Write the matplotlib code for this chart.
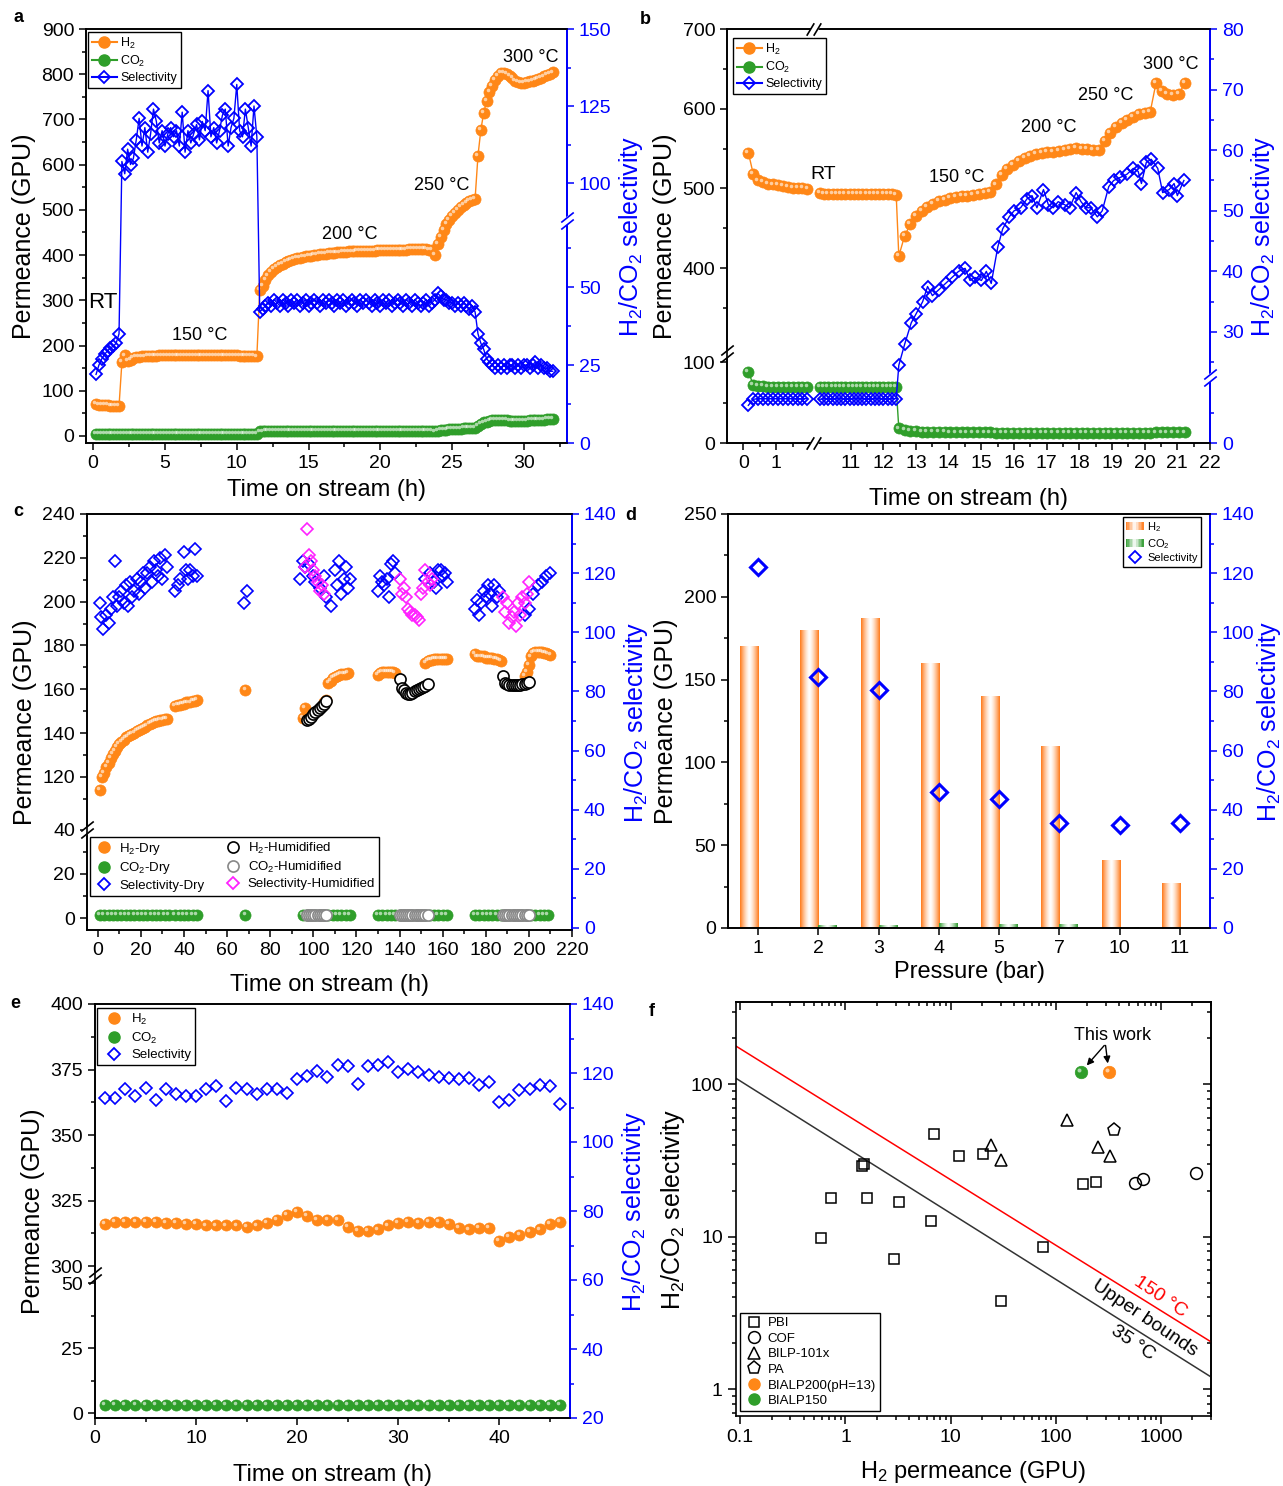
import numpy as np
import matplotlib
matplotlib.use("Agg")
import matplotlib.pyplot as plt
import matplotlib.transforms as mtransforms
from matplotlib.ticker import FixedLocator, NullFormatter
from matplotlib.lines import Line2D
from matplotlib.patches import Patch, Rectangle
from matplotlib.legend_handler import HandlerBase
from matplotlib.colors import LinearSegmentedColormap, to_rgb

plt.rcParams['font.family'] = ['Liberation Sans', 'DejaVu Sans']
plt.rcParams['mathtext.fontset'] = 'custom'
plt.rcParams['mathtext.rm'] = 'Liberation Sans'
plt.rcParams['mathtext.default'] = 'regular'
plt.rcParams['axes.linewidth'] = 1.2

ORANGE = '#ff8717'
GREEN = '#2f9e2a'
BLUE = '#0000ff'
MAGENTA = '#ff22ff'

# ---------------- data: panel a (sampled every 0.2 h from 0.2 h) ----------------
h2_a = [70, 69, 69, 68, 68, 67, 67, 66, 66,
        163, 178, 166, 168, 172, 174, 175, 176, 176, 177,
        177, 177, 177, 178, 178, 178, 178, 178, 178, 178,
        178, 178, 178, 178, 178, 178, 178, 178, 178, 178,
        178, 178, 178, 178, 178, 178, 178, 178, 178, 178,
        178, 177, 177, 177, 177, 177, 177, 176,
        322, 332, 345, 355, 363, 369, 374, 378, 381, 384,
        387, 389, 391, 393, 394, 396, 397, 398, 399, 400,
        401, 402, 403, 403, 404, 405, 405, 406, 406, 407,
        407, 408, 408, 408, 409, 409, 409, 410, 410, 410,
        410, 411, 411, 411, 411, 412, 412, 412, 412, 412,
        412, 412, 413, 413, 413, 413, 413, 413, 413, 412,
        412, 400,
        425, 440, 455, 468, 478, 487, 494, 500, 506, 511, 515, 519, 522, 525,
        620, 677, 715, 740, 760, 775, 788, 797, 802, 803,
        800, 796, 791, 786, 782, 780, 780, 782, 784, 786,
        788, 790, 792, 795, 798, 801, 804]
co2_a = [5, 5, 5, 5, 5, 5, 5, 5, 5,
         5, 5, 5, 5, 5, 5, 5, 5, 5, 5,
         5, 5, 5, 5, 5, 5, 5, 5, 5, 5,
         5, 5, 5, 5, 5, 5, 5, 5, 5, 5,
         5, 5, 5, 5, 5, 5, 5, 5, 5, 5,
         5, 5, 5, 5, 5, 5, 5, 5,
         10, 10, 11, 11, 11, 11, 11, 11, 12, 12,
         12, 12, 12, 12, 12, 12, 12, 12, 12, 12,
         12, 12, 12, 12, 12, 12, 12, 12, 12, 12,
         12, 12, 12, 12, 12, 12, 12, 12, 12, 12,
         12, 12, 12, 12, 12, 12, 12, 12, 12, 12,
         12, 12, 12, 12, 12, 12, 12, 12, 12, 12,
         12, 10,
         12, 13, 14, 14, 15, 15, 16, 16, 16, 17, 17, 17, 18, 18,
         22, 27, 30, 32, 34, 35, 36, 36, 36, 35,
         35, 34, 34, 33, 33, 33, 34, 34, 35, 35,
         35, 36, 36, 36, 37, 37, 38]
sel_a = [22, 25, 27, 28.5, 29.5, 30.5, 31, 32, 35,
         107, 103, 111, 106, 108, 114, 121, 112, 118, 110,
         116, 124, 120, 113, 117, 112, 116, 118, 115, 117,
         112, 123, 110, 117, 113, 116, 119, 114, 120, 117,
         130, 115, 118, 113, 117, 122, 124, 112, 118, 121,
         132, 117, 115, 124, 118, 112, 125, 115,
         42, 43, 44, 45, 44, 46, 45, 44, 46, 45,
         44, 46, 45, 46, 44, 45, 46, 44, 45, 46,
         45, 44, 46, 45, 46, 45, 44, 46, 45, 46,
         44, 45, 46, 45, 44, 46, 45, 46, 45, 44,
         46, 45, 44, 46, 45, 46, 44, 45, 46, 45,
         44, 46, 45, 44, 46, 45, 44, 45, 46, 44,
         45, 46,
         48, 47, 46, 46, 45, 45, 44, 45, 44, 45, 44, 43, 44, 42,
         35, 32, 30, 27, 26, 25, 24, 25, 24, 25,
         24, 25, 25, 24, 25, 24, 25, 25, 24, 25,
         26, 24, 25, 24, 24, 23, 23]

# ---------------- data: panel b ----------------
# room temperature, before the axis break (every 0.15 h from 0.15 h)
h2_b1 = [545, 518, 510, 508, 506, 505, 504, 503, 502, 501, 500, 500, 499]
co2_b1 = [88, 72, 70, 70, 69, 69, 69, 69, 69, 69, 69, 69, 69]
sel_b1 = [6.2, 7.2, 7.3, 7.3, 7.3, 7.3, 7.3, 7.3, 7.3, 7.3, 7.3, 7.3, 7.3]
# room temperature after the break (every 0.13 h from 10.05 h)
h2_b2 = [494, 493, 493, 493, 493, 493, 493, 493, 493, 493,
         493, 493, 493, 493, 493, 493, 493, 493, 492]
co2_b2 = [69, 69, 69, 69, 69, 69, 69, 69, 69, 69,
          69, 69, 69, 69, 69, 69, 69, 69, 69]
sel_b2 = [7.2, 7.3, 7.3, 7.3, 7.3, 7.3, 7.3, 7.3, 7.3, 7.3,
          7.3, 7.3, 7.3, 7.3, 7.3, 7.3, 7.3, 7.3, 7.3]
# heated part (every 0.175 h from 12.47 h)
h2_b3 = [415, 440, 455, 465, 472, 477, 481, 484, 486, 488,
         489, 490, 491, 492, 493, 494, 495, 505, 517, 524,
         529, 534, 538, 541, 543, 545, 546, 546, 547, 548,
         550, 551, 550, 549, 548, 548, 560, 570, 577, 582,
         586, 590, 593, 595, 596, 632, 622, 619, 617, 618, 632]
co2_b3 = [18, 16, 15, 15, 14, 14, 14, 14, 14, 13,
          13, 13, 13, 13, 13, 13, 13, 12, 12, 12,
          12, 12, 12, 12, 12, 12, 12, 12, 12, 12,
          12, 12, 12, 12, 12, 12, 12, 12, 12, 12,
          12, 12, 12, 12, 12, 13, 13, 13, 13, 13, 13]
sel_b3_t = [12.47, 12.65, 12.85, 13.0, 13.2, 13.35, 13.5, 13.7, 13.9, 14.1,
            14.3, 14.5, 14.65, 14.8, 15.0, 15.15, 15.3, 15.5, 15.65, 15.85,
            16.0, 16.2, 16.4, 16.55, 16.7, 16.9, 17.05, 17.2, 17.35, 17.55,
            17.7, 17.9, 18.05, 18.2, 18.35, 18.55, 18.7, 18.9, 19.05, 19.25,
            19.45, 19.65, 19.8, 19.9, 20.05, 20.2, 20.4, 20.55, 20.75, 20.9,
            21.0, 21.2]
sel_b3 = [24.5, 28, 31.5, 33, 35, 37.5, 36, 37, 38, 39,
          40, 40.5, 38.5, 39, 38.5, 40, 38, 44, 47, 49,
          50, 50.5, 52, 52.5, 50.5, 53.5, 51, 50.5, 51.5, 51,
          50.5, 53, 51.5, 50.5, 50.5, 49, 50, 54, 55, 55.5,
          56, 57, 56.5, 54.5, 58, 58.5, 57, 53, 53.5, 54.5,
          52.5, 55]

# ---------------- data: panel c ----------------
h2dry_t = [*range(1, 33), *range(36, 47), 68.5, 95, 96, *range(105, 117),
           *range(130, 139), *range(152, 163), *range(175, 188), *range(198, 211)]
h2dry = [114, 120, 122, 124.5, 126.5, 128.5, 130.5, 132, 133.5, 135,
         136, 137, 138, 138.5, 139, 139.5, 140, 141, 141.5, 142,
         142.5, 143, 143.5, 144, 144.5, 145, 145.5, 145.5, 146, 146,
         146.5, 146.5,
         152.5, 153, 153, 153.5, 153.5, 154, 154, 154, 154.5, 154.5, 155,
         159.5,
         147, 151.5,
         154, 155, 163, 164, 165, 165.5, 166, 166.5, 167, 167, 167, 167.5,
         166.5, 167.5, 168, 168, 168, 168, 168, 168, 167.5,
         172, 173, 173.5, 173.5, 174, 174, 174, 174, 174, 174, 174,
         176, 175, 175, 175, 175, 174.5, 174.5, 174.5, 174.5, 174, 174, 173.5, 173,
         166, 168, 171, 175, 176.5, 177, 177, 177, 177, 176.5, 176.5, 176, 175.5]
h2hum_t = [*range(97, 107), *range(140, 154), *range(188, 201)]
h2hum = [146, 146.5, 147.5, 148.5, 149.5, 150.5, 151.5, 152.5, 153.5, 154.5,
         164.5, 160.5, 159.5, 158.5, 158, 158, 158.5, 159, 159.5, 160, 160.5, 161, 161.5, 162.5,
         166, 163, 162.5, 162, 162, 162, 162, 162, 162, 162.5, 162.5, 163, 163.5]
co2dry_t = [*range(1, 34, 2), *range(36, 47, 2), 68.5, *range(95, 118, 2),
            *range(130, 163, 2), *range(175, 210, 2)]
co2dry = [1.4, 1.3, 1.3, 1.2, 1.2, 1.2, 1.2, 1.2, 1.2, 1.2, 1.2, 1.2, 1.2, 1.2, 1.2, 1.2, 1.2,
          1.3, 1.3, 1.3, 1.3, 1.3, 1.3,
          1.4,
          1.3, 1.3, 1.3, 1.3, 1.3, 1.3, 1.3, 1.4, 1.4, 1.4, 1.4, 1.4,
          1.4, 1.4, 1.4, 1.4, 1.4, 1.4, 1.4, 1.4, 1.4, 1.4, 1.4, 1.4, 1.4, 1.4, 1.4, 1.4, 1.4,
          1.5, 1.5, 1.5, 1.5, 1.5, 1.5, 1.5, 1.5, 1.5, 1.5, 1.5, 1.5, 1.5, 1.5, 1.5, 1.5, 1.5, 1.5]
co2hum = [1.4, 1.4, 1.4, 1.4, 1.4, 1.4, 1.4, 1.4, 1.4, 1.4,
          1.4, 1.4, 1.4, 1.4, 1.4, 1.4, 1.4, 1.4, 1.4, 1.4, 1.4, 1.4, 1.4, 1.4,
          1.5, 1.5, 1.5, 1.5, 1.5, 1.5, 1.5, 1.5, 1.5, 1.5, 1.5, 1.5, 1.5]
seldry_t = [1, 1.5, 2.5, 4, 5, 6, 7, 8, 9, 10,
            11, 12, 13, 14, 15, 16, 17, 18, 19, 20,
            21, 22, 23, 24, 25, 26, 27, 28, 29, 30,
            31, 32,
            36, 37, 38, 40, 41, 42, 43, 44, 45, 46,
            68, 69,
            94, 95, 96, 98, 100, 101, 103, 105, 106, 108,
            110, 111, 112, 113, 114, 115, 116, 117,
            130, 131, 132, 133, 134, 135, 136, 137, 138,
            152, 154, 156, 157, 158, 159, 160, 161, 162,
            175, 176, 177, 178, 179, 180, 181, 182, 183, 184, 185, 186,
            198, 200, 202, 204, 206, 208, 210]
seldry = [110, 105, 101, 106, 103, 108, 112, 124, 109, 112,
          114, 110, 116, 109, 117, 112, 114, 118, 113, 117,
          120, 115, 120, 122, 117, 124, 121, 119, 125, 118,
          126, 122,
          114, 116, 118, 127, 121, 118, 121, 119, 128, 119,
          110, 114,
          118, 124, 122, 123, 119, 117, 115, 119, 112, 109,
          121, 116, 124, 113, 118, 122, 115, 118,
          114, 119, 117, 116, 118, 112, 123, 124, 120,
          118, 120, 117, 115, 121, 121, 119, 120, 117,
          108, 111, 106, 110, 114, 112, 116, 113, 109, 116, 112, 114,
          106, 108, 113, 116, 117, 119, 120]
selhum_t = [96, 97, 98, 99, 100, 101, 102, 103, 104, 105,
            140, 141, 142, 143, 144, 145, 146, 147, 148, 149, 150, 151, 152, 153, 154, 155,
            188, 189, 190, 191, 192, 193, 194, 195, 196, 197, 198, 199, 200]
selhum = [122, 135, 126, 124, 121, 119, 117, 114, 116, 113,
          118, 113, 115, 112, 108, 107, 106, 106, 105, 104, 113, 115, 121, 117, 116, 118,
          112, 107, 110, 103, 105, 107, 102, 110, 106, 112, 110, 113, 117]

# ---------------- data: panel d ----------------
pressure = ['1', '2', '3', '4', '5', '7', '10', '11']
h2_d = [170, 180, 187, 160, 140, 110, 41, 27]
co2_d = [0.8, 1.6, 1.8, 2.8, 2.6, 2.4, 0.5, 0.3]
sel_d = [122, 85, 80.5, 46, 43.5, 35.5, 35, 35.5]

# ---------------- data: panel e (hourly, 1-46 h) ----------------
t_e = list(range(1, 47))
h2_e = [316, 317, 317, 317, 317, 317, 316.5, 316.5, 316, 316,
        315.5, 315.5, 315.5, 315.5, 315, 315.5, 316.5, 317.5, 319.5, 320.5,
        319, 317.5, 317.5, 317.5, 315, 313.5, 313.5, 314, 315.5, 316.5,
        317, 316.5, 317, 317, 316, 314.5, 314, 314.5, 314.5, 309.5,
        311, 312, 313, 314, 316, 317]
co2_e = [3.2, 3.2, 3.2, 3.2, 3.2, 3.2, 3.2, 3.2, 3.2, 3.2,
         3.2, 3.2, 3.2, 3.2, 3.2, 3.2, 3.2, 3.2, 3.2, 3.2,
         3.2, 3.2, 3.2, 3.2, 3.2, 3.2, 3.2, 3.2, 3.2, 3.2,
         3.2, 3.2, 3.2, 3.2, 3.2, 3.2, 3.2, 3.2, 3.2, 3.2,
         3.2, 3.2, 3.2, 3.2, 3.2, 3.2]
sel_e = [112.8, 112.8, 115.4, 113.4, 115.7, 112.2, 115.4, 113.8, 113.2, 113.4,
         115.5, 116.2, 112, 115.7, 115.3, 114, 115.4, 115.3, 114.2, 118.3,
         119.2, 120.7, 118.8, 122.3, 122, 116.7, 122, 122.3, 123.2, 120.2,
         121.1, 120.4, 119.5, 118.8, 118.5, 118.3, 118.5, 116.6, 117.3, 111.5,
         112.2, 115, 115.4, 116.6, 116.2, 111]

# ---------------- data: panel f ----------------
pbi_x = [0.59, 0.73, 1.43, 1.5, 1.6, 2.9, 3.2, 6.5, 7.0, 12, 20.5, 30, 75, 180, 240]
pbi_y = [9.8, 18, 29, 30, 18, 7.1, 17, 12.7, 47, 34, 35, 3.8, 8.6, 22, 22.7]
cof_x = [570, 670, 2170]
cof_y = [22.5, 24, 26]
bilp_x = [24.5, 30, 128, 255, 325]
bilp_y = [40, 32, 58, 39, 34]
pa_x = [355]
pa_y = [50]
bialp200_x, bialp200_y = [320], [121]
bialp150_x, bialp150_y = [175], [121]
ub_x = [0.09, 3000]
ub150_y = [179, 2.04]
ub35_y = [110, 1.2]

# ---------------- helpers ----------------
W, H = 1283, 1486
fig = plt.figure(figsize=(W / 100, H / 100), dpi=100)


def box(x0, y0, x1, y1):
    return [x0 / W, 1 - y1 / H, (x1 - x0) / W, (y1 - y0) / H]


def grid(t0, dt, vals):
    return t0 + dt * np.arange(len(vals))


def broken(vals, pos):
    vals = np.asarray(vals, float)
    pos = np.asarray(pos, float)
    return (lambda v: np.interp(v, vals, pos), lambda p: np.interp(p, pos, vals))


def balls(ax, x, y, color, ms=8.0, ls='none', lw=1.0, z=3):
    ln, = ax.plot(x, y, ls=ls, lw=lw, marker='o', ms=ms, color=color,
                  mfc=color, mec=color, mew=0.5, zorder=z)
    off = mtransforms.offset_copy(ax.transData, fig=fig, x=-0.17 * ms, y=0.17 * ms, units='points')
    ax.plot(x, y, ls='none', marker='o', ms=ms * 0.32, mfc='white', mec='none',
            alpha=0.6, transform=off, zorder=z + 0.01)
    return ln


def ybreak(ax, side, value, color='k'):
    tr = ax.get_yaxis_transform()
    ax.plot([side], [value], transform=tr, ls='none', marker=[(-1, -0.8), (1, 0.8)], ms=9,
            mew=5, color='white', clip_on=False, zorder=30)
    for d in (-3.5, 3.5):
        t2 = mtransforms.offset_copy(tr, fig=fig, y=d, units='dots')
        ax.plot([side], [value], transform=t2, ls='none', marker=[(-1, -0.8), (1, 0.8)], ms=9,
                mew=1.2, color=color, clip_on=False, zorder=31)


def xbreak(ax, value):
    tr = ax.get_xaxis_transform()
    for yy in (0, 1):
        ax.plot([value], [yy], transform=tr, ls='none', marker=[(-0.6, -1), (0.6, 1)], ms=9,
                mew=5, color='white', clip_on=False, zorder=30)
        for d in (-3.5, 3.5):
            t2 = mtransforms.offset_copy(tr, fig=fig, x=d, units='dots')
            ax.plot([value], [yy], transform=t2, ls='none', marker=[(-0.6, -1), (0.6, 1)], ms=9,
                    mew=1.2, color='k', clip_on=False, zorder=31)


def style(ax, right):
    ax.tick_params(which='both', direction='out', labelsize=14, width=1.1)
    ax.tick_params(which='major', length=5)
    ax.tick_params(which='minor', length=3)
    right.tick_params(axis='y', which='both', direction='out', colors=BLUE, labelsize=14, width=1.1)
    right.tick_params(axis='y', which='major', length=5)
    right.tick_params(axis='y', which='minor', length=3)
    right.spines['right'].set_color(BLUE)
    right.spines['right'].set_linewidth(1.4)


def leg(ax, handles, labels, fs=9, **kw):
    lg = ax.legend(handles, labels, frameon=True, fancybox=False, edgecolor='k', framealpha=1,
                   borderpad=0.3, labelspacing=0.25, handletextpad=0.3, borderaxespad=0,
                   prop={'size': fs}, **kw)
    lg.get_frame().set_linewidth(1.0)
    return lg


def labels(ax, right, xl='Time on stream (h)', xpad=5, rpad=4):
    ax.set_xlabel(xl, fontsize=17, labelpad=xpad)
    ax.set_ylabel('Permeance (GPU)', fontsize=18, labelpad=4)
    right.set_ylabel('H$_2$/CO$_2$ selectivity', fontsize=18, color=BLUE, labelpad=rpad)


def diamond_handle(color, ms=6.3, ls='none'):
    return Line2D([], [], ls=ls, color=color, marker='D', ms=ms, mfc='none', mew=1.3)


def ball_handle(color, ls='none'):
    return Line2D([], [], ls=ls, color=color, marker='o', ms=8, mfc=color, mec=color)


# ---------------- panel a ----------------
axa = fig.add_axes(box(86, 29, 567, 443))
axa.set_xlim(-0.5, 33)
axa.set_ylim(-15.5, 900)
ara = axa.twinx()
ara.set_yscale('function', functions=broken([-20, 0, 71.5, 88, 150, 300],
                                            [-62.4, 0, 223, 223.01, 414, 876]))
ara.set_ylim(0, 150)
balls(axa, grid(0.2, 0.2, h2_a), h2_a, ORANGE, ls='-')
balls(axa, grid(0.2, 0.2, co2_a), co2_a, GREEN, ls='-')
ara.plot(grid(0.2, 0.2, sel_a), sel_a, '-D', color=BLUE, mfc='none', ms=6.3, mew=1.3, lw=1)
axa.set_xticks(range(0, 31, 5))
axa.xaxis.set_minor_locator(FixedLocator(np.arange(0, 33, 2.5)))
axa.set_yticks(range(0, 901, 100))
axa.yaxis.set_minor_locator(FixedLocator(np.arange(50, 900, 100)))
ara.set_yticks([0, 25, 50, 100, 125, 150])
ara.yaxis.set_minor_locator(FixedLocator([12.5, 37.5, 62.5, 112.5, 137.5]))
style(axa, ara)
labels(axa, ara, xpad=5.5)
ybreak(ara, 1, 71.5, BLUE)
for s, (x, y), fs in [('RT', (0.7, 296), 16), ('150 °C', (7.4, 223), 13), ('200 °C', (17.9, 445), 13),
                      ('250 °C', (24.3, 555), 13), ('300 °C', (30.5, 838), 13)]:
    axa.text(x, y, s, fontsize=fs, ha='center', va='center')
leg(ara, [ball_handle(ORANGE, '-'), ball_handle(GREEN, '-'), diamond_handle(BLUE, ls='-')],
    ['H$_2$', 'CO$_2$', 'Selectivity'], loc='upper left', bbox_to_anchor=(0.004, 0.993))

# ---------------- panel b ----------------
axb = fig.add_axes(box(727, 29, 1210, 443))
axb.set_xscale('function', functions=broken([-5, 0, 2.143, 9.865, 22, 40],
                                            [-164, 0, 70.3, 70.31, 466.4, 1053.2]))
axb.set_yscale('function', functions=broken([-100, 0, 111.1, 293.4, 700, 1000],
                                            [-81, 0, 90, 90.01, 414.1, 653]))
axb.set_xlim(-0.5, 22)
axb.set_ylim(0, 700)
arb = axb.twinx()
arb.set_yscale('function', functions=broken([-10, 0, 10.87, 22.57, 80, 120],
                                            [-60.7, 0, 66, 66.01, 414, 656.6]))
arb.set_ylim(0, 80)
t_b1 = grid(0.15, 0.15, h2_b1)
t_b23 = np.concatenate([grid(10.05, 0.13, h2_b2), grid(12.47, 0.175, h2_b3)])
balls(axb, t_b1, h2_b1, ORANGE, ls='-')
balls(axb, t_b23, h2_b2 + h2_b3, ORANGE, ls='-')
balls(axb, t_b1, co2_b1, GREEN, ls='-')
balls(axb, t_b23, co2_b2 + co2_b3, GREEN, ls='-')
arb.plot(t_b1, sel_b1, '-D', color=BLUE, mfc='none', ms=6.3, mew=1.3, lw=1)
arb.plot(np.concatenate([grid(10.05, 0.13, sel_b2), sel_b3_t]), sel_b2 + sel_b3, '-D',
         color=BLUE, mfc='none', ms=6.3, mew=1.3, lw=1)
axb.set_xticks([0, 1] + list(range(11, 23)))
axb.xaxis.set_minor_locator(FixedLocator([0.5, 1.5] + list(np.arange(11.5, 22, 1))))
axb.set_yticks([0, 100, 400, 500, 600, 700])
axb.yaxis.set_minor_locator(FixedLocator([50, 350, 450, 550, 650]))
arb.set_yticks([0, 30, 40, 50, 60, 70, 80])
arb.yaxis.set_minor_locator(FixedLocator([5, 25, 35, 45, 55, 65, 75]))
style(axb, arb)
labels(axb, arb, xpad=12)
ybreak(axb, 0, 111.1)
ybreak(arb, 1, 10.87, BLUE)
xbreak(arb, 2.143)
for s, (x, y), fs in [('RT', (10.14, 517), 14), ('150 °C', (14.25, 514), 13), ('200 °C', (17.07, 576), 13),
                      ('250 °C', (18.82, 616), 13), ('300 °C', (20.8, 655), 13)]:
    axb.text(x, y, s, fontsize=fs, ha='center', va='center')
leg(arb, [ball_handle(ORANGE, '-'), ball_handle(GREEN, '-'), diamond_handle(BLUE, ls='-')],
    ['H$_2$', 'CO$_2$', 'Selectivity'], loc='upper left', bbox_to_anchor=(0.012, 0.978))

# ---------------- panel c ----------------
axc = fig.add_axes(box(87, 514, 572, 930))
axc.set_yscale('function', functions=broken([-50, 0, 40, 95.8, 240, 400],
                                            [-98, 12, 100, 100.01, 415.8, 766]))
axc.set_xlim(-5, 220)
axc.set_ylim(-5.45, 240)
arc = axc.twinx()
arc.set_ylim(-0.7, 140)
balls(axc, h2dry_t, h2dry, ORANGE)
balls(axc, co2dry_t, co2dry, GREEN)
axc.plot(h2hum_t, h2hum, 'o', ms=8, mfc='white', mec='k', mew=1.2, zorder=4)
axc.plot(h2hum_t, co2hum, 'o', ms=8, mfc='white', mec='#888888', mew=1.2, zorder=4)
arc.plot(seldry_t, seldry, 'D', color=BLUE, mfc='none', ms=6.3, mew=1.2)
arc.plot(selhum_t, selhum, 'D', color=MAGENTA, mfc='none', ms=6.3, mew=1.2)
axc.set_xticks(range(0, 221, 20))
axc.xaxis.set_minor_locator(FixedLocator(np.arange(10, 220, 20)))
axc.set_yticks([0, 20, 40, 120, 140, 160, 180, 200, 220, 240])
axc.yaxis.set_minor_locator(FixedLocator([10, 30, 110, 130, 150, 170, 190, 210, 230]))
arc.set_yticks(range(0, 141, 20))
arc.yaxis.set_minor_locator(FixedLocator(np.arange(10, 140, 20)))
style(axc, arc)
labels(axc, arc, xpad=11)
ybreak(axc, 0, 40)
leg(arc, [ball_handle(ORANGE), ball_handle(GREEN), diamond_handle(BLUE),
          Line2D([], [], ls='none', marker='o', ms=8, mfc='white', mec='k', mew=1.2),
          Line2D([], [], ls='none', marker='o', ms=8, mfc='white', mec='#888888', mew=1.2),
          diamond_handle(MAGENTA)],
    ['H$_2$-Dry', 'CO$_2$-Dry', 'Selectivity-Dry', 'H$_2$-Humidified', 'CO$_2$-Humidified',
     'Selectivity-Humidified'], fs=9.5, ncol=2, columnspacing=1.4, handlelength=1.6,
    loc='lower left', bbox_to_anchor=(0.006, 0.082))

# ---------------- panel d ----------------
axd = fig.add_axes(box(728, 514, 1210, 928))
ard = axd.twinx()
xd = np.arange(len(pressure))
bw = 0.3
grad = np.abs(np.linspace(-1, 1, 64))[None, :] ** 1.4
cm_or = LinearSegmentedColormap.from_list('or', ['white', '#ff7a1a'])
cm_gr = LinearSegmentedColormap.from_list('gr', ['white', '#2e9a2e'])
bars_h2 = axd.bar(xd - bw / 2, h2_d, bw, color='none', ec='none')
bars_co2 = axd.bar(xd + bw / 2, co2_d, bw, color='none', ec='none')
for bars, cm in [(bars_h2, cm_or), (bars_co2, cm_gr)]:
    for b in bars:
        im = axd.imshow(grad, cmap=cm, vmin=0, vmax=1, aspect='auto', interpolation='bilinear',
                        extent=(b.get_x(), b.get_x() + b.get_width(), 0, b.get_height()), zorder=2)
        im.set_clip_path(b)
ard.plot(xd, sel_d, 'D', color=BLUE, mfc='none', ms=8.5, mew=2.2, zorder=5)
axd.set_xlim(-0.5, len(pressure) - 0.5)
axd.set_ylim(0, 250)
ard.set_ylim(0, 140)
axd.set_xticks(xd, pressure)
axd.set_yticks(range(0, 251, 50))
axd.yaxis.set_minor_locator(FixedLocator(np.arange(25, 250, 50)))
ard.set_yticks(range(0, 141, 20))
ard.yaxis.set_minor_locator(FixedLocator(np.arange(10, 140, 20)))
style(axd, ard)
labels(axd, ard, 'Pressure (bar)', xpad=3, rpad=0)


class GradHandler(HandlerBase):
    def __init__(self, color):
        super().__init__()
        self.color = np.array(to_rgb(color))

    def create_artists(self, legend, orig_handle, xdescent, ydescent, width, height, fontsize, trans):
        n = 12
        arts = []
        for i in range(n):
            k = abs((i + 0.5) / n - 0.5) * 2
            c = (1 - k) * np.ones(3) + k * self.color
            arts.append(Rectangle((-xdescent + i * width / n, -ydescent), width / n, height,
                                  fc=c, ec='none', transform=trans))
        return arts


p_h2 = Patch(color=ORANGE)
p_co2 = Patch(color=GREEN)
leg(ard, [p_h2, p_co2, diamond_handle(BLUE, ms=6.5)], ['H$_2$', 'CO$_2$', 'Selectivity'], fs=8,
    handlelength=1.6, loc='upper right', bbox_to_anchor=(0.981, 0.993),
    handler_map={p_h2: GradHandler('#ff7a1a'), p_co2: GradHandler('#2e9a2e')})

# ---------------- panel e ----------------
axe = fig.add_axes(box(95, 1004, 570, 1418))
axe.set_yscale('function', functions=broken([-50, 0, 53.1, 296.6, 400, 600],
                                            [-125, 5, 143, 143.01, 414, 938]))
axe.set_xlim(0, 47)
axe.set_ylim(-1.92, 400)
are = axe.twinx()
are.set_ylim(20, 140)
balls(axe, t_e, h2_e, ORANGE)
balls(axe, t_e, co2_e, GREEN)
are.plot(t_e, sel_e, 'D', color=BLUE, mfc='none', ms=6.5, mew=1.2)
axe.set_xticks(range(0, 41, 10))
axe.xaxis.set_minor_locator(FixedLocator(np.arange(5, 47, 10)))
axe.set_yticks([0, 25, 50, 300, 325, 350, 375, 400])
axe.yaxis.set_minor_locator(FixedLocator([12.5, 37.5, 312.5, 337.5, 362.5, 387.5]))
are.set_yticks(range(20, 141, 20))
are.yaxis.set_minor_locator(FixedLocator(np.arange(30, 140, 20)))
style(axe, are)
labels(axe, are, xpad=12.5)
ybreak(axe, 0, 53.1)
leg(are, [ball_handle(ORANGE), ball_handle(GREEN), diamond_handle(BLUE)],
    ['H$_2$', 'CO$_2$', 'Selectivity'], fs=9.5, loc='upper left', bbox_to_anchor=(0.004, 0.99))

# ---------------- panel f ----------------
axf = fig.add_axes(box(736, 1002, 1211, 1416))
axf.set_xscale('log')
axf.set_yscale('log')
axf.plot(ub_x, ub150_y, color='red', lw=1.1)
axf.plot(ub_x, ub35_y, color='#333333', lw=1.1)
mk = dict(ls='none', mfc='none', mec='k', mew=1.1)
axf.plot(pbi_x, pbi_y, marker='s', ms=7.5, **mk)
axf.plot(cof_x, cof_y, marker='o', ms=8.5, **mk)
axf.plot(bilp_x, bilp_y, marker='^', ms=9, **mk)
axf.plot(pa_x, pa_y, marker='p', ms=9.5, **mk)
balls(axf, bialp200_x, bialp200_y, ORANGE, ms=9, z=5)
balls(axf, bialp150_x, bialp150_y, GREEN, ms=9, z=5)
axf.set_xlim(0.091, 3000)
axf.set_ylim(0.665, 347)
axf.set_xticks([0.1, 1, 10, 100, 1000], ['0.1', '1', '10', '100', '1000'])
axf.set_yticks([1, 10, 100], ['1', '10', '100'])
axf.xaxis.set_minor_formatter(NullFormatter())
axf.yaxis.set_minor_formatter(NullFormatter())
axf.tick_params(which='both', direction='out', labelsize=14, width=1.1)
axf.tick_params(which='major', length=6)
axf.tick_params(which='minor', length=3)
sx = axf.secondary_xaxis('top')
sx.tick_params(which='both', direction='in', width=1.1)
sx.tick_params(which='major', length=6)
sx.tick_params(which='minor', length=3)
sx.xaxis.set_major_formatter(NullFormatter())
sx.xaxis.set_minor_formatter(NullFormatter())
sy = axf.secondary_yaxis('right')
sy.tick_params(which='both', direction='in', width=1.1)
sy.tick_params(which='major', length=6)
sy.tick_params(which='minor', length=3)
sy.yaxis.set_major_formatter(NullFormatter())
sy.yaxis.set_minor_formatter(NullFormatter())
axf.set_xlabel('H$_2$ permeance (GPU)', fontsize=17, labelpad=9)
axf.set_ylabel('H$_2$/CO$_2$ selectivity', fontsize=18, labelpad=2)
axf.text(346, 208, 'This work', fontsize=13, ha='center', va='center')
axf.annotate('', xy=(bialp150_x[0], bialp150_y[0]), xytext=(290, 180),
             arrowprops=dict(arrowstyle='-|>', color='k', lw=1, shrinkA=0, shrinkB=6, mutation_scale=10))
axf.annotate('', xy=(bialp200_x[0], bialp200_y[0]), xytext=(298, 180),
             arrowprops=dict(arrowstyle='-|>', color='k', lw=1, shrinkA=0, shrinkB=6, mutation_scale=10))
axf.text(991, 4.0, '150 °C', fontsize=14, color='red', rotation=-34, ha='center', va='center')
axf.text(697, 2.93, 'Upper bounds', fontsize=14, rotation=-34, ha='center', va='center')
axf.text(535, 2.0, '35 °C', fontsize=14, rotation=-34, ha='center', va='center')
leg(axf, [Line2D([], [], marker='s', ms=7.5, **mk), Line2D([], [], marker='o', ms=8.5, **mk),
          Line2D([], [], marker='^', ms=9, **mk), Line2D([], [], marker='p', ms=9.5, **mk),
          ball_handle(ORANGE), ball_handle(GREEN)],
    ['PBI', 'COF', 'BILP-101x', 'PA', 'BIALP200(pH=13)', 'BIALP150'], fs=9.5,
    handlelength=1.5, loc='lower left', bbox_to_anchor=(0.008, 0.012))

# ---------------- panel letters ----------------
for s, x, y in [('a', 18, 18), ('b', 645, 20), ('c', 18, 512), ('d', 631, 515), ('e', 15, 1003), ('f', 652, 1012)]:
    fig.text(x / W, 1 - y / H, s, fontsize=13, fontweight='bold', ha='center', va='center')

fig.savefig('out.png', dpi=100)
